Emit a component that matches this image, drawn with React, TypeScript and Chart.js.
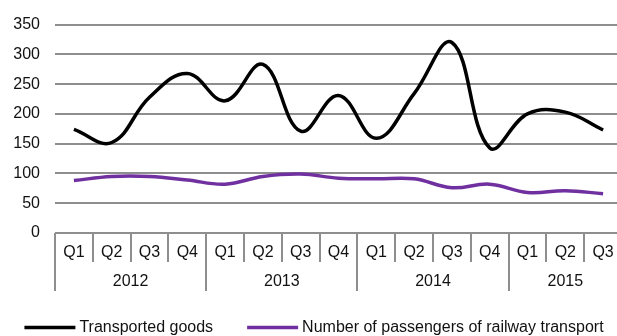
import React, { useEffect, useRef } from "react";
import { Chart, registerables } from "chart.js";

Chart.register(...registerables);

// ---- data ----
const quarters = ["Q1", "Q2", "Q3", "Q4", "Q1", "Q2", "Q3", "Q4", "Q1", "Q2", "Q3", "Q4", "Q1", "Q2", "Q3"];
const years = ["2012", "2013", "2014", "2015"];
const quartersPerYear = [4, 4, 4, 3];
const transportedGoods = [174, 152, 228, 268, 222, 283, 171, 231, 159, 234, 320, 143, 200, 203, 173];
const railwayPassengers = [88, 95, 95, 89, 82, 95, 99, 92, 91, 91, 76, 82, 68, 71, 66];
const seriesNames = ["Transported goods", "Number of passengers of railway transport"];
const yMin = 0;
const yMax = 350;
const yStep = 50;

const FONT = '"Liberation Sans", Arial, sans-serif';
const GRID = "#8e8e8e";
const TEXT = "#111111";
const COLORS = ["#000000", "#7030a0"];

const groupedAxisPlugin = {
  id: "groupedAxis",
  afterDraw(chart: any) {
    const ctx = chart.ctx;
    const xs = chart.scales.x;
    const bottom = chart.chartArea.bottom;
    const n = quarters.length;
    const w = xs.width / n;
    const yearBounds: number[] = [0];
    let acc = 0;
    quartersPerYear.forEach((q) => {
      acc += q;
      yearBounds.push(acc);
    });
    ctx.save();
    ctx.strokeStyle = GRID;
    ctx.lineWidth = 2;
    for (let i = 0; i <= n; i++) {
      const x = Math.round(xs.left + i * w);
      const isYear = yearBounds.includes(i);
      ctx.beginPath();
      ctx.moveTo(x, bottom);
      ctx.lineTo(x, bottom + (isYear ? 58 : 29));
      ctx.stroke();
    }
    ctx.fillStyle = TEXT;
    ctx.font = `16px ${FONT}`;
    ctx.textAlign = "center";
    ctx.textBaseline = "middle";
    quarters.forEach((q, i) => {
      ctx.fillText(q, xs.getPixelForValue(i), bottom + 19.5);
    });
    let start = 0;
    years.forEach((yr, k) => {
      const cnt = quartersPerYear[k];
      const cx = xs.left + (start + cnt / 2) * w;
      ctx.fillText(yr, cx, bottom + 49);
      start += cnt;
    });

    // legend
    const lineLen = 51;
    const gapText = 4;
    const gapItems = 34;
    const widths = seriesNames.map((s) => ctx.measureText(s).width);
    const total = widths.reduce((a, b) => a + b, 0) + seriesNames.length * (lineLen + gapText) + gapItems * (seriesNames.length - 1);
    let x = 314 - total / 2;
    const ly = 327.5;
    ctx.textAlign = "left";
    seriesNames.forEach((s, i) => {
      ctx.strokeStyle = COLORS[i];
      ctx.lineWidth = 3.5;
      ctx.beginPath();
      ctx.moveTo(x, ly);
      ctx.lineTo(x + lineLen, ly);
      ctx.stroke();
      ctx.fillStyle = TEXT;
      ctx.fillText(s, x + lineLen + gapText, ly + 0.5);
      x += lineLen + gapText + widths[i] + gapItems;
    });
    ctx.restore();
  },
};

export default function App() {
  const ref = useRef<HTMLCanvasElement | null>(null);
  useEffect(() => {
    if (!ref.current) return;
    const chart = new Chart(ref.current, {
      type: "line",
      data: {
        labels: quarters,
        datasets: [
          {
            label: seriesNames[0],
            data: transportedGoods,
            borderColor: COLORS[0],
            backgroundColor: COLORS[0],
            borderWidth: 3.5,
            pointRadius: 0,
            tension: 0.4,
          },
          {
            label: seriesNames[1],
            data: railwayPassengers,
            borderColor: COLORS[1],
            backgroundColor: COLORS[1],
            borderWidth: 3.5,
            pointRadius: 0,
            tension: 0.4,
          },
        ],
      },
      options: {
        responsive: false,
        animation: false,
        devicePixelRatio: 1,
        layout: { padding: { top: 20, right: 18, bottom: 103, left: 0 } },
        plugins: { legend: { display: false }, tooltip: { enabled: false } },
        scales: {
          x: {
            display: false,
            offset: true,
          },
          y: {
            min: yMin,
            max: yMax,
            afterFit: (s: any) => {
              s.width = 55;
            },
            border: { display: false },
            grid: { color: GRID, lineWidth: 2, drawTicks: false },
            ticks: {
              stepSize: yStep,
              padding: 15,
              color: TEXT,
              font: { family: FONT, size: 16 },
            },
          },
        },
      },
      plugins: [groupedAxisPlugin],
    });
    return () => chart.destroy();
  }, []);
  return (
    <div style={{ position: "fixed", left: 0, top: 0, width: 617, height: 336, overflow: "hidden", background: "#fff" }}>
      <canvas ref={ref} width={640} height={336} style={{ display: "block", width: 640, height: 336 }} />
    </div>
  );
}
